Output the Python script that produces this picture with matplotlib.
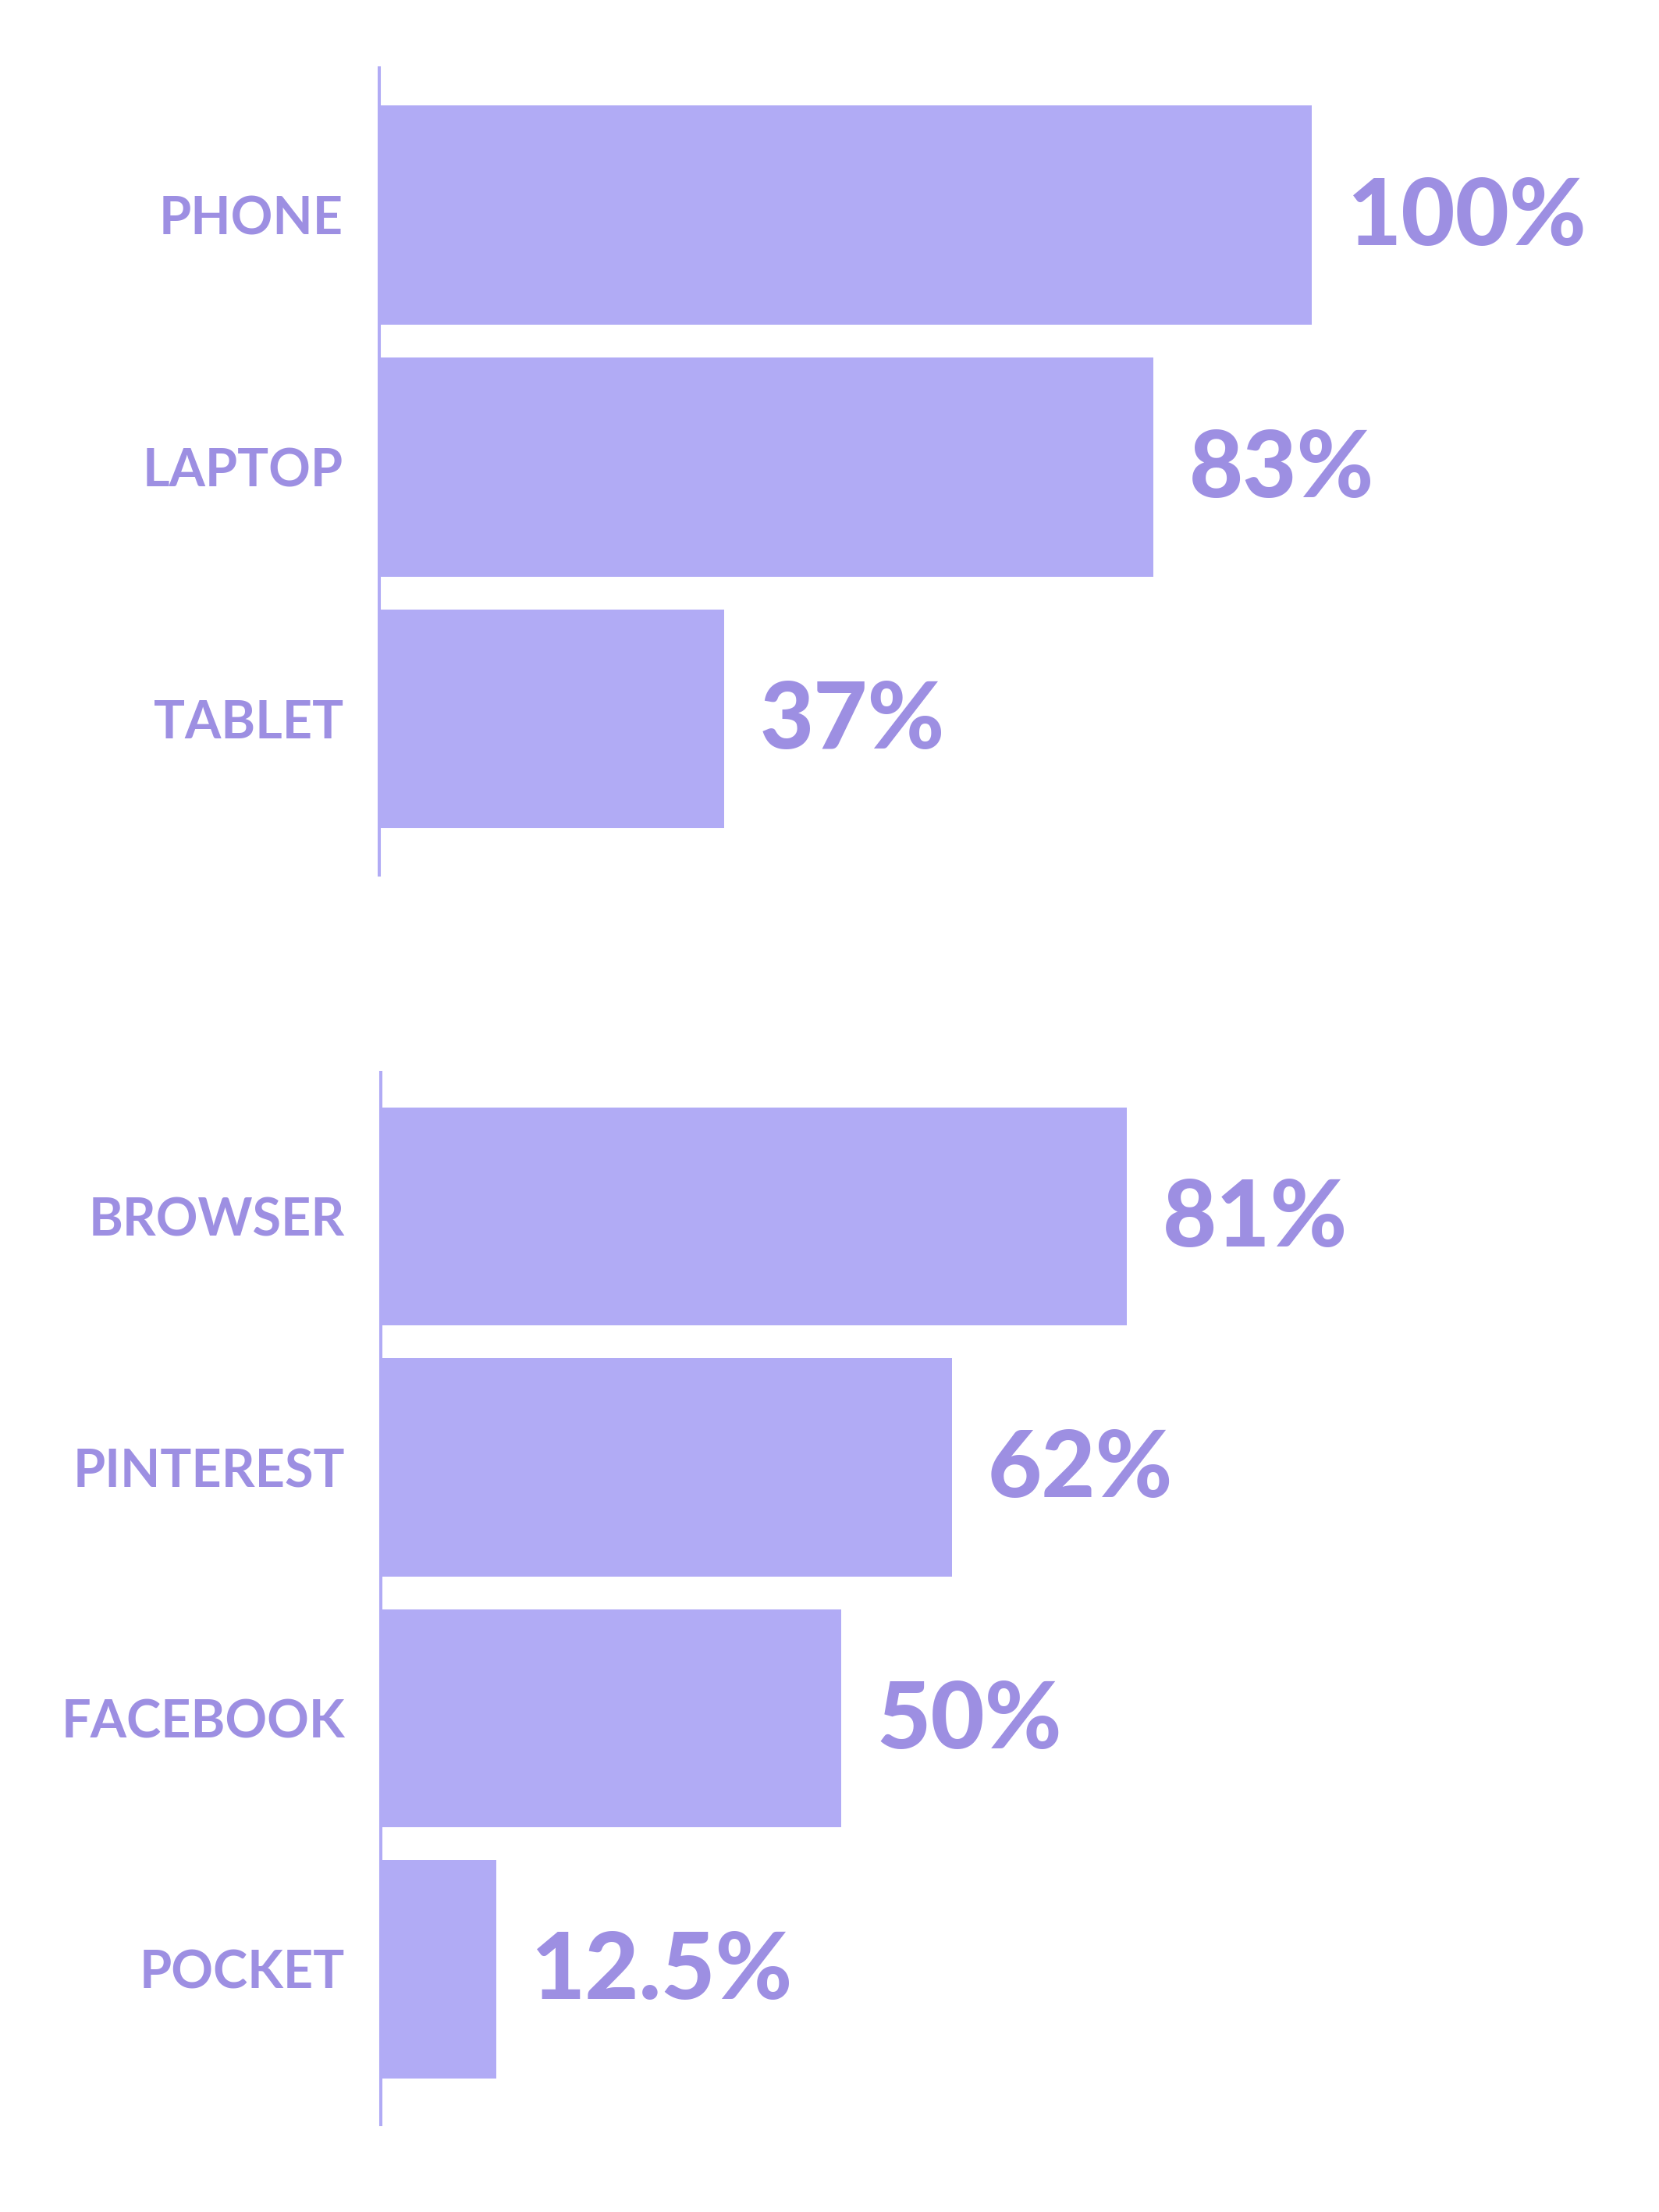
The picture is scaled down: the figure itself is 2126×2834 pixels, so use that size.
#!/usr/bin/python3

import matplotlib.pyplot as plt

devices = ["PHONE", "LAPTOP", "TABLET"]
device_values = [100, 83, 37]
device_labels = ["100%", "83%", "37%"]

apps = ["BROWSER", "PINTEREST", "FACEBOOK", "POCKET"]
app_values = [81, 62, 50, 12.5]
app_labels = ["81%", "62%", "50%", "12.5%"]

BAR = "#b1abf5"
TEXT = "#9d8fe2"

W, H = 2126, 2834


def panel(fig, rect, cats, values, labels, top_gap, bottom_gap, xmax):
    ax = fig.add_axes(rect)
    ys = list(range(len(cats)))
    ax.barh(ys, values, height=0.87, color=BAR, zorder=2)

    for y, v, lab in zip(ys, values, labels):
        ax.annotate(lab, (v, y), xytext=(33, -3), textcoords="offset points",
                    va="center", ha="left", fontsize=86, fontweight="black",
                    color=TEXT, family="Lato")

    ax.set_yticks(ys)
    ax.set_yticklabels(cats, fontsize=48, fontweight="bold",
                       color=TEXT, family="Lato")
    ax.tick_params(axis="y", length=0, pad=33)
    ax.set_xticks([])

    ax.set_xlim(0, xmax)
    ax.set_ylim(len(cats) - 1 + bottom_gap, -top_gap)

    for s in ["top", "right", "bottom"]:
        ax.spines[s].set_visible(False)
    ax.spines["left"].set_color(BAR)
    ax.spines["left"].set_linewidth(2.9)
    ax.spines["left"].set_zorder(3)
    return ax


def main():
    fig = plt.figure(figsize=(W / 100, H / 100), dpi=100)
    fig.patch.set_facecolor("white")

    # top panel: spine from y=87 to y=1121, x=486
    panel(fig, [486 / W, 1 - 1121 / H, 1428 / W, (1121 - 87) / H],
          devices, device_values, device_labels, 0.585, 0.62, 119.5)

    # bottom panel: spine from y=1374 to y=2722, x=488
    panel(fig, [488 / W, 1 - 2722 / H, 1428 / W, (2722 - 1374) / H],
          apps, app_values, app_labels, 0.574, 0.619, 121.0)

    fig.savefig("out.png", dpi=100, facecolor="white")
    plt.close(fig)
    return 0


if __name__ == "__main__":
    exit(main())
